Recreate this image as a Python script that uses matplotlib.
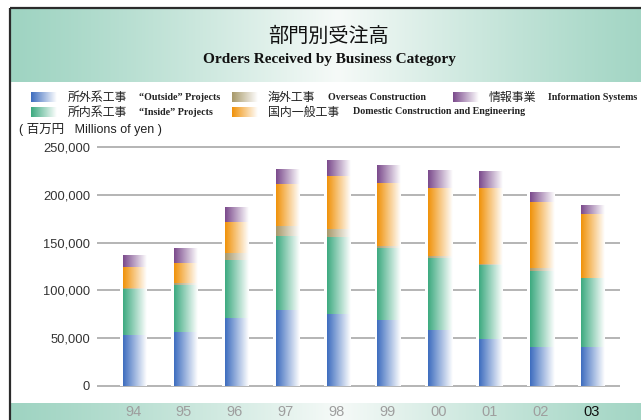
import numpy as np
import matplotlib
matplotlib.use('Agg')
import matplotlib.pyplot as plt
from matplotlib.colors import to_rgb
from matplotlib import font_manager

# ── Data (millions of yen) ───────────────────────────────────────────────────
years = ['94', '95', '96', '97', '98', '99', '00', '01', '02', '03']
outside  = [52900, 56400, 71500, 79000, 74900, 69400, 58100, 48800, 40500, 40500]
inside   = [48800, 49100, 60700, 78300, 81400, 74700, 75500, 78100, 80100, 72100]
overseas = [800, 2700, 7300, 10500, 8400, 2400, 2400, 600, 3200, 500]
domestic = [22300, 20800, 32500, 43400, 54900, 65400, 70600, 79100, 68200, 67300]
info     = [11600, 14700, 14700, 15400, 16400, 17800, 17900, 16800, 10400, 8400]

series_jp = ['所外系工事', '所内系工事', '海外工事', '国内一般工事', '情報事業']
series_en = ['\u201cOutside\u201d Projects', '\u201cInside\u201d Projects',
             'Overseas Construction', 'Domestic Construction and Engineering',
             'Information Systems']
colors = ['#3e6dbf', '#3daa80', '#a8996a', '#f0920a', '#7b4a8c']
yticks = [0, 50000, 100000, 150000, 200000, 250000]

names = {f.name for f in font_manager.fontManager.ttflist}
if 'Liberation Sans Narrow' in names:
    NARROW, ysize, xsize = 'Liberation Sans Narrow', 11, 12
else:
    NARROW, ysize, xsize = 'Liberation Sans', 9.3, 10.5
JP = 'Noto Sans CJK JP'
SERIF = 'Liberation Serif'

W, H = 641, 420
fig = plt.figure(figsize=(W / 100, H / 100), dpi=100)

# ── Background decoration in pixel coordinates ───────────────────────────────
bg = fig.add_axes([0, 0, 1, 1])
bg.set_xlim(0, W)
bg.set_ylim(H, 0)
bg.axis('off')


def hband(ax, x0, x1, y0, y1, edge, mid, mid_pos=0.52):
    t = np.linspace(0, 1, 300)
    w = np.clip(1 - np.abs(t - mid_pos) / max(mid_pos, 1 - mid_pos), 0, 1) ** 1.2
    e, m = np.array(to_rgb(edge)), np.array(to_rgb(mid))
    img = e[None, :] * (1 - w[:, None]) + m[None, :] * w[:, None]
    ax.imshow(img[None, :, :], extent=(x0, x1, y1, y0), aspect='auto',
              interpolation='bilinear', zorder=0)


def fade(ax, x0, x1, y0, y1, color, z=2):
    # solid colour on the left fading to white on the right
    t = np.linspace(0, 1, 64)[:, None]
    c = np.array(to_rgb(color))
    img = c[None, :] * (1 - t) + np.ones(3)[None, :] * t
    ax.imshow(img[None, :, :], extent=(x0, x1, y0, y1), aspect='auto',
              interpolation='bilinear', zorder=z)


hband(bg, 10, W, 8, 82, '#9fd4c2', '#f6faf8')
hband(bg, 10, W, 403, H, '#9fd4c2', '#f6faf8')
bg.plot([10, 10], [8, H], color='#2b2b2b', lw=1.6, solid_capstyle='butt')
bg.plot([10, W], [8, 8], color='#2b2b2b', lw=1.6, solid_capstyle='butt')

bg.text(329, 36, '部門別受注高', ha='center', va='center',
        family=JP, fontsize=14.5, color='#111111')
bg.text(329, 59, 'Orders Received by Business Category', ha='center', va='center',
        family=SERIF, fontweight='bold', fontsize=11, color='#111111')

# legend (manual layout like the printed original)
leg_pos = [(31, 68, 139, 97), (31, 68, 139, 112), (232, 268, 328, 97),
           (232, 268, 353, 112), (453, 489, 548, 97)]
for (ix, jx, ex, yy), c, jp, en in zip(leg_pos, colors, series_jp, series_en):
    fade(bg, ix, ix + 26, yy + 5, yy - 5, c)
    bg.text(jx, yy, jp, ha='left', va='center', family=JP, fontsize=8.6,
            color='#222222')
    bg.text(ex, yy, en, ha='left', va='center', family=SERIF,
            fontweight='bold', fontsize=7.2, color='#222222')

bg.text(19, 129, '( 百万円   Millions of yen )', ha='left', va='center',
        family=[NARROW, JP], fontsize=9, color='#222222')
bg.set_xlim(0, W)
bg.set_ylim(H, 0)

# ── Chart ─────────────────────────────────────────────────────────────────────
ax_l, ax_r, ax_t, ax_b = 97, 620, 147, 386
ax = fig.add_axes([ax_l / W, (H - ax_b) / H, (ax_r - ax_l) / W, (ax_b - ax_t) / H])
ax.set_facecolor('none')
for s in ax.spines.values():
    s.set_visible(False)

x = np.arange(len(years))
xmin = -36 / 50.9
xmax = xmin + (ax_r - ax_l) / 50.9
bw = 20 / 50.9
halo = 26 / 50.9

for yv in yticks:
    ax.plot([xmin, xmax], [yv, yv], color='#b4b4b4', lw=1.4, zorder=0,
            clip_on=False, solid_capstyle='butt')

stack = np.vstack([outside, inside, overseas, domestic, info])
tops = stack.sum(axis=0)
for i in range(len(years)):
    ax.bar(x[i], tops[i], width=halo, color='white', zorder=1)
    bottom = 0
    for k in range(stack.shape[0]):
        v = stack[k, i]
        if v > 0:
            fade(ax, x[i] - bw / 2, x[i] + bw / 2 + 4 / 50.9,
                 bottom, bottom + v, colors[k])
        bottom += v

ax.set_xlim(xmin, xmax)
ax.set_ylim(0, 250000)
ax.set_yticks(yticks)
ax.set_yticklabels([f'{v:,}' for v in yticks], family=NARROW, fontsize=ysize,
                   color='#333333')
ax.tick_params(axis='y', length=0, pad=5)
ax.set_xticks(x)
ax.set_xticklabels(years, family=NARROW, fontsize=xsize, color='#9e9e9e')
ax.get_xticklabels()[-1].set_color('#111111')
ax.tick_params(axis='x', length=0, pad=14)

fig.savefig('out.png', dpi=100)
